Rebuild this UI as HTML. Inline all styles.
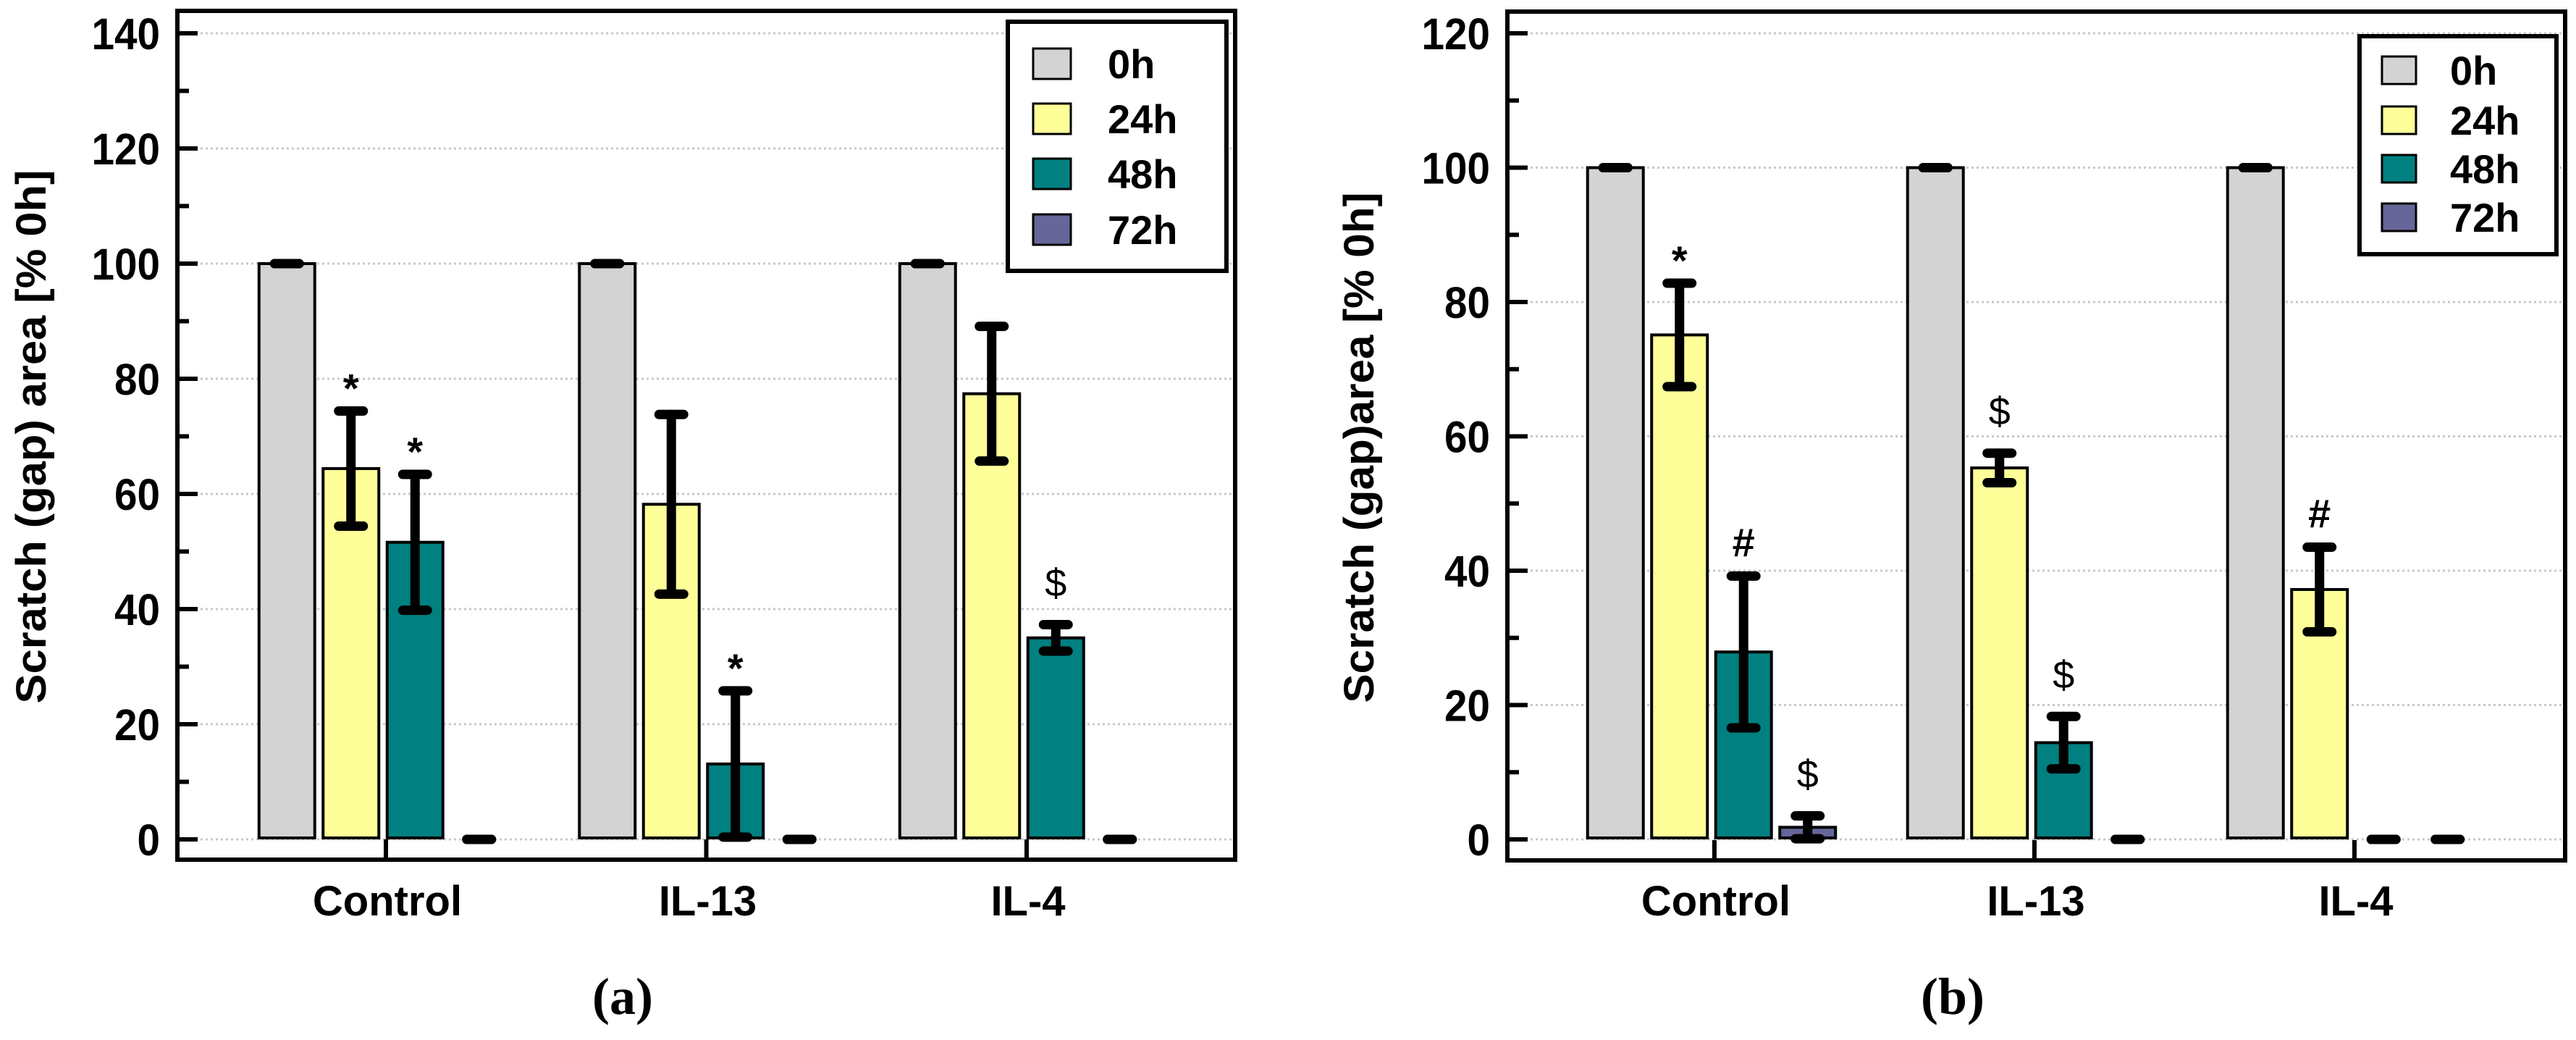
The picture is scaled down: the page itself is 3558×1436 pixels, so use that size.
<!DOCTYPE html>
<html><head><meta charset="utf-8"><style>
html,body{margin:0;padding:0;background:#fff;}
svg{display:block;}
</style></head><body>
<svg id="fig" width="3558" height="1436" viewBox="0 0 3558 1436" xmlns="http://www.w3.org/2000/svg" font-family="'Liberation Sans', sans-serif"></svg>
<script>
// ---- data ----
const categories = ["Control", "IL-13", "IL-4"];
const seriesNames = ["0h", "24h", "48h", "72h"];
const seriesColors = ["#d3d3d3", "#ffff99", "#008080", "#666699"];
// panel (a)
const aVal0h  = [100, 100, 100];
const aVal24h = [64.4, 58.2, 77.4];
const aVal48h = [51.6, 13.1, 35.0];
const aVal72h = [0, 0, 0];
const aErr0h  = [0, 0, 0];
const aErr24h = [10.0, 15.6, 11.7];
const aErr48h = [11.8, 12.7, 2.3];
const aErr72h = [0, 0, 0];
const aTicks = [0, 20, 40, 60, 80, 100, 120, 140];
const aMarks = [[1, 0, "*"], [2, 0, "*"], [2, 1, "*"], [2, 2, "$"]];
// panel (b)
const bVal0h  = [100, 100, 100];
const bVal24h = [75.1, 55.3, 37.2];
const bVal48h = [27.9, 14.4, 0];
const bVal72h = [1.8, 0, 0];
const bErr0h  = [0, 0, 0];
const bErr24h = [7.7, 2.2, 6.3];
const bErr48h = [11.3, 3.9, 0];
const bErr72h = [1.7, 0, 0];
const bTicks = [0, 20, 40, 60, 80, 100, 120];
const bMarks = [[1, 0, "*"], [2, 0, "#"], [3, 0, "$"], [1, 1, "$"], [2, 1, "$"], [1, 2, "#"]];

const NS = "http://www.w3.org/2000/svg";
const svg = document.getElementById("fig");
function mk(tag, attrs, parent) {
  const e = document.createElementNS(NS, tag);
  for (const k in attrs) e.setAttribute(k, attrs[k]);
  (parent || svg).appendChild(e);
  return e;
}

function panel(cfg) {
  const g = mk("g", {});
  
  
  const y = v => cfg.y0 - (v / cfg.ymax) * (cfg.y0 - cfg.ytop);
  const xc = i => cfg.c0 + cfg.gap * i;
  const pitch = 88.5, bw = 77;
  cfg.ticks.forEach(t => {
    const l = mk("line", {x1: cfg.L + 4, x2: cfg.R - 4, y1: y(t), y2: y(t), stroke: "#c8c8c8", "stroke-width": 3, "stroke-dasharray": "3 4"}, g);
    
    
  });
  for (let v = 0; v <= cfg.ymax; v += 10) {
    const major = v % 20 === 0;
    const t = mk("line", {x1: cfg.L, x2: cfg.L + (major ? 28 : 16), y1: y(v), y2: y(v), stroke: "#000", "stroke-width": 6}, g);
    
    
  }
  cfg.ticks.forEach(t => {
    const tx = mk("text", {x: cfg.L - 24, y: y(t) + 22, "text-anchor": "end", "font-size": 61, "font-weight": "bold", textLength: String(t).length * 31.5, lengthAdjust: "spacingAndGlyphs"}, g);
    tx.textContent = t;
    
    
  });
  const vals = cfg.vals, errs = cfg.errs;
  for (let s = 0; s < 4; s++) {
    for (let i = 0; i < 3; i++) {
      const cx = xc(i) + (s - 1.5) * pitch;
      const v = vals[s][i], e = errs[s][i];
      if (v > 0) {
        const r = mk("rect", {x: cx - bw / 2, y: y(v), width: bw, height: y(0) - y(v) - 2, fill: cfg.colors[s], stroke: "#000", "stroke-width": 4}, g);
        
        
      }
      const eg = mk("g", {stroke: "#000", "stroke-linecap": "round"}, g);
      
      
      if (e > 0) mk("line", {x1: cx, x2: cx, y1: y(v + e), y2: y(Math.max(0, v - e)), "stroke-width": 13}, eg);
      mk("line", {x1: cx - 17, x2: cx + 17, y1: y(v + e), y2: y(v + e), "stroke-width": 13}, eg);
      mk("line", {x1: cx - 17, x2: cx + 17, y1: y(Math.max(0, v - e)), y2: y(Math.max(0, v - e)), "stroke-width": 13}, eg);
    }
  }
  cfg.marks.forEach(m => {
    const s = m[0], i = m[1], sym = m[2];
    const cx = xc(i) + (s - 1.5) * pitch;
    const cap = y(vals[s][i] + errs[s][i]);
    let c, off;
    if (sym === "*") { c = cap - 42; off = 30; }
    else if (sym === "#") { c = cap - 45; off = 18; }
    else { c = cap - 57; off = 18; }
    const t = mk("text", {x: cx, y: c + off, "text-anchor": "middle", "font-size": sym === "$" ? 54 : 56, "font-weight": sym === "$" ? "normal" : "bold"}, g);
    t.textContent = sym;
    
    
  });
  for (let i = 0; i < 3; i++) {
    const xt = mk("line", {x1: xc(i) + 4, x2: xc(i) + 4, y1: cfg.B, y2: cfg.B - 28, stroke: "#000", "stroke-width": 6}, g);
    
    
    const lt = mk("text", {x: xc(i) + 6, y: 1264, "text-anchor": "middle", "font-size": 58, "font-weight": "bold"}, g);
    lt.textContent = categories[i];
    
    
  }
  const f = mk("rect", {x: cfg.L, y: cfg.T, width: cfg.R - cfg.L, height: cfg.B - cfg.T, fill: "none", stroke: "#000", "stroke-width": 6}, g);
  
  
  const yt = mk("text", {x: 0, y: 0, transform: "translate(" + cfg.titleX + "," + cfg.titleY + ") rotate(-90)", "text-anchor": "middle", "font-size": 58, "font-weight": "bold", textLength: cfg.titleLen, lengthAdjust: "spacingAndGlyphs"}, g);
  yt.textContent = cfg.title;
  
  
  const lg = mk("g", {}, g);
  
  
  mk("rect", {x: cfg.leg.x, y: cfg.leg.y, width: cfg.leg.w, height: cfg.leg.h, fill: "#fff", stroke: "#000", "stroke-width": 6}, lg);
  for (let s = 0; s < 4; s++) {
    const ry = cfg.leg.rows[s];
    const sw = mk("rect", {x: cfg.leg.sx, y: ry - cfg.leg.sh / 2, width: cfg.leg.sw, height: cfg.leg.sh, fill: cfg.colors[s], stroke: "#000", "stroke-width": 3}, lg);
    
    
    const lt = mk("text", {x: cfg.leg.tx, y: ry + 20, "font-size": 56, "font-weight": "bold"}, lg);
    lt.textContent = seriesNames[s];
    
    
  }
  const pl = mk("text", {x: cfg.panelX, y: 1400, "text-anchor": "middle", "font-size": 72, "font-weight": "bold", "font-family": "'Liberation Serif', serif"}, g);
  pl.textContent = cfg.panelLabel;
  
  
}

panel({
  name: "chart-a", L: 245, R: 1706, T: 15, B: 1187, y0: 1159, ytop: 46, ymax: 140,
  c0: 529, gap: 442.5, ticks: aTicks, colors: seriesColors,
  vals: [aVal0h, aVal24h, aVal48h, aVal72h], errs: [aErr0h, aErr24h, aErr48h, aErr72h],
  marks: aMarks, title: "Scratch (gap) area [% 0h]", titleX: 63, titleY: 603, titleLen: 737,
  leg: {x: 1392, y: 30, w: 302, h: 344, sx: 1427, sw: 52, sh: 42, tx: 1530, rows: [88, 164, 240, 317]},
  panelX: 860, panelLabel: "(a)"
});
panel({
  name: "chart-b", L: 2082, R: 3543, T: 16, B: 1188, y0: 1159, ytop: 46, ymax: 120,
  c0: 2364, gap: 442, ticks: bTicks, colors: seriesColors,
  vals: [bVal0h, bVal24h, bVal48h, bVal72h], errs: [bErr0h, bErr24h, bErr48h, bErr72h],
  marks: bMarks, title: "Scratch (gap)area [% 0h]", titleX: 1897, titleY: 618, titleLen: 705,
  leg: {x: 3259, y: 50, w: 272, h: 301, sx: 3290, sw: 47, sh: 38, tx: 3384, rows: [97, 166, 233, 300]},
  panelX: 2697, panelLabel: "(b)"
});
</script>
</body></html>
